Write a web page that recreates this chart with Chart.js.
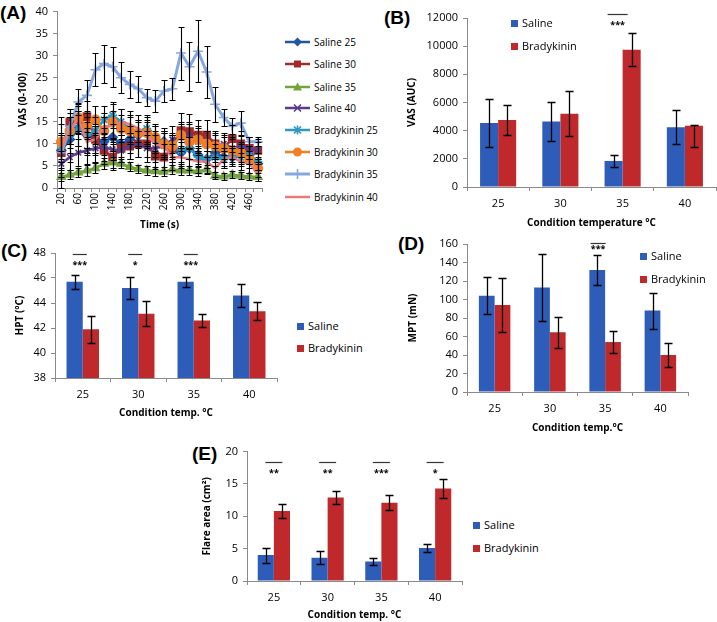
<!DOCTYPE html>
<html>
<head>
<meta charset="utf-8">
<title>Saline vs bradykinin</title>
<script src="https://cdn.jsdelivr.net/npm/chart.js@4.4.1/dist/chart.umd.min.js"></script>
<style>
  body { margin: 0; width: 717px; height: 622px; position: relative; overflow: hidden; background: #fff; font-family: 'Open Sans', sans-serif; color: #000; }
  .panel { position: absolute; }
  .tag { position: absolute; font: bold 19px 'Liberation Sans', Arial, sans-serif; line-height: 19px; }
  .key { position: absolute; font-size: 11px; white-space: nowrap; }
  .key .row { position: absolute; left: 0; height: 14px; line-height: 14px; display: flex; align-items: center; }
  .sw { display: inline-block; width: 7px; height: 7px; margin-right: 4px; }
</style>
</head>
<body>

<div class="tag" style="left:0;top:3px">(A)</div>
<div class="tag" style="left:384px;top:8px">(B)</div>
<div class="tag" style="left:1px;top:241px">(C)</div>
<div class="tag" style="left:398px;top:234px">(D)</div>
<div class="tag" style="left:192px;top:444px">(E)</div>

<div class="panel" style="left:0;top:0;width:271px;height:231px"><canvas id="chartA"></canvas></div>
<div class="panel" style="left:390px;top:0;width:327px;height:229px"><canvas id="chartB"></canvas></div>
<div class="panel" style="left:0;top:240px;width:280px;height:179px"><canvas id="chartC"></canvas></div>
<div class="panel" style="left:400px;top:230px;width:290px;height:204px"><canvas id="chartD"></canvas></div>
<div class="panel" style="left:180px;top:440px;width:285px;height:181px"><canvas id="chartE"></canvas></div>

<div class="key" id="keyA" style="left:285px;top:0"></div>
<div class="key" id="keyB" style="left:511px;top:0"></div>
<div class="key" id="keyC" style="left:297px;top:0"></div>
<div class="key" id="keyD" style="left:640px;top:0"></div>
<div class="key" id="keyE" style="left:473px;top:0"></div>

<script>
// ---- data: panel A, VAS over time (24 time points) ----
const timeLabels = [20, 40, 60, 80, 100, 120, 140, 160, 180, 200, 220, 240,
                    260, 280, 300, 320, 340, 360, 380, 400, 420, 440, 460, 480];

const saline25 = [8.5, 11, 13.5, 12, 11, 10.5, 11.5, 10, 11, 12, 13, 11, 10.5, 9, 8, 9, 7.5, 6.5, 8, 7, 7, 8, 7.5, 5.5];
const saline30 = [8, 15, 15.5, 16.2, 11, 8.5, 7, 9, 9.5, 10, 10, 7.2, 7, 9, 13, 12.8, 12, 12, 10, 9, 11.2, 10, 9, 8.5];
const saline35 = [2.5, 3, 3.5, 4, 4.5, 5.5, 5.8, 5.5, 4.8, 4.3, 4, 3.8, 3.7, 4.2, 4, 4, 3.8, 4.2, 2.8, 2.6, 3, 2.8, 2.6, 2.5];
const saline40 = [5.5, 7, 8, 8.5, 9, 9.2, 8.8, 8.5, 9.5, 10, 9, 9, 9.5, 11, 11.5, 12, 10.5, 10, 9.5, 10, 9, 9.5, 9, 8.5];
const brady25 = [9, 12, 13.5, 12, 13, 15.5, 16.5, 15, 13.5, 12.5, 13.5, 11, 10, 9.5, 8.5, 9, 7, 6.5, 7, 6.5, 7.5, 7, 7.5, 6];
const brady30 = [10.5, 13, 16, 14, 15.5, 13, 15, 13.5, 13, 12.5, 12.5, 11.5, 10, 9.5, 12, 10.5, 11, 10, 9.5, 9, 8.5, 8, 6.5, 4.5];
const brady35 = [8, 14, 19.5, 21, 26.8, 28.2, 27.5, 25, 23.5, 22.5, 20.5, 19.7, 22, 22.5, 30.6, 27.5, 31, 26.3, 19, 16, 14, 14.7, 10.5, 10.5];
const brady40 = [9, 13, 15.8, 10.5, 11, 14, 14, 15, 14.5, 13.5, 12, 10, 9.5, 7, 7, 6.5, 6, 6, 4.5, 6.5, 7, 6, 5.5, 3.5];

const saline25Err = [4, 5, 4, 4, 3.5, 3, 3, 3, 3, 3, 3, 3, 3, 3, 2.5, 2.5, 2, 2, 2, 2, 2, 2, 2, 1.5];
const saline30Err = [4, 3, 3, 3.5, 3, 3, 3, 3, 3, 3, 3, 3, 3, 3, 4, 4, 3.5, 3.5, 3, 3, 3, 3, 2.5, 2.5];
const saline35Err = [1, 1, 1, 1.2, 1.2, 1.2, 1.2, 1, 1, 1, 1, 1, 1, 1, 1, 1, 1, 1, 0.8, 0.8, 0.8, 0.8, 0.8, 0.8];
const saline40Err = [3, 3, 3, 3, 3, 3, 2.5, 2.5, 3, 3, 3, 3, 3, 3, 3, 3, 3, 3, 2.5, 2.5, 2.5, 2.5, 2.5, 2];
const brady25Err = [3, 4, 4, 3, 3, 3, 3, 3, 3, 3, 3, 3, 3, 2.5, 2.5, 2.5, 2, 2, 2, 2, 2, 2, 2, 2];
const brady30Err = [4, 4, 3, 3, 3, 3, 4, 3, 3, 3, 3, 3, 3, 3, 3, 4, 3, 3, 3, 2.5, 2.5, 2.5, 2, 2];
const brady35Err = [8, 4, 3, 3.5, 3.7, 4.3, 4.5, 3.5, 3, 3, 2, 2.5, 2.5, 2.5, 6, 5.5, 7, 5.8, 4, 2, 1.8, 2.8, 1, 1];
const brady40Err = [3, 3, 3.5, 3, 3, 3, 3.5, 3, 3, 3, 3, 3, 3, 3, 2.5, 2.5, 2.5, 2.5, 2, 2, 2, 2, 2, 2];

// ---- data: panels B-E, by condition temperature ----
const tempLabels = ['25', '30', '35', '40'];

const aucSaline = [4550, 4650, 1850, 4250];
const aucSalineErr = [1700, 1400, 450, 1200];
const aucBrady = [4750, 5200, 9750, 4350];
const aucBradyErrLow = [1050, 1600, 1150, 1500];
const aucBradyErrHigh = [1050, 1600, 1150, 50];
const aucStars = ['', '', '***', ''];

const hptSaline = [45.7, 45.2, 45.7, 44.6];
const hptSalineErr = [0.55, 0.9, 0.4, 0.95];
const hptBrady = [41.9, 43.15, 42.6, 43.35];
const hptBradyErr = [1.1, 1.0, 0.5, 0.75];
const hptStars = ['***', '*', '***', ''];

const mptSaline = [104, 113, 132, 88];
const mptSalineErr = [20, 36, 16.5, 19.5];
const mptBrady = [94, 64.5, 54, 40];
const mptBradyErr = [29, 16.5, 11.5, 13];
const mptStars = ['', '', '***', ''];

const flareSaline = [4.0, 3.6, 3.0, 5.1];
const flareSalineErr = [1.15, 1.0, 0.6, 0.65];
const flareBrady = [10.8, 12.9, 12.1, 14.3];
const flareBradyErr = [1.05, 0.95, 1.15, 1.4];
const flareStars = ['**', '**', '***', '*'];

// ---- styling ----
const salineBlue = '#2d5db9';
const bradyRed = '#c0292b';
const axisGrey = '#8a8a8a';

Chart.defaults.font.family = "'Open Sans', sans-serif";
Chart.defaults.color = '#000';
Chart.defaults.animation = false;

// error bars drawn from each dataset's err / errLow / errHigh arrays
const errorBars = {
  id: 'errorBars',
  afterDatasetsDraw(chart, args, opts) {
    const ctx = chart.ctx;
    const y = chart.scales.y;
    const cap = opts.cap || 4;
    ctx.save();
    ctx.strokeStyle = '#000';
    ctx.lineWidth = opts.width || 1.3;
    chart.data.datasets.forEach((ds, di) => {
      if (!ds.err && !ds.errLow) return;
      const meta = chart.getDatasetMeta(di);
      meta.data.forEach((el, i) => {
        const v = ds.data[i];
        const lo = ds.errLow ? ds.errLow[i] : ds.err[i];
        const hi = ds.errHigh ? ds.errHigh[i] : ds.err[i];
        const top = Math.round(y.getPixelForValue(v + hi)) + 0.5;
        const bot = Math.round(y.getPixelForValue(v - lo)) + 0.5;
        const x = Math.round(el.x) + 0.5;
        ctx.beginPath();
        ctx.moveTo(x, top); ctx.lineTo(x, bot);
        ctx.moveTo(x - cap, top); ctx.lineTo(x + cap, top);
        ctx.moveTo(x - cap, bot); ctx.lineTo(x + cap, bot);
        ctx.stroke();
      });
    });
    ctx.restore();
  }
};

// significance bar + stars over a category
const sigMarks = {
  id: 'sigMarks',
  afterDatasetsDraw(chart, args, o) {
    if (!o.stars) return;
    const { ctx } = chart;
    const x = chart.scales.x, y = chart.scales.y;
    ctx.save();
    o.stars.forEach((s, i) => {
      if (!s) return;
      const cx = x.getPixelForValue(i) + (o.shift || 0);
      const ly = Math.round(y.getPixelForValue(o.lineAt)) + 0.5;
      ctx.strokeStyle = '#333';
      ctx.lineWidth = 1.2;
      ctx.beginPath();
      ctx.moveTo(cx - o.half, ly);
      ctx.lineTo(cx + o.half, ly);
      ctx.stroke();
      ctx.fillStyle = '#000';
      ctx.font = "bold 9px 'Open Sans', sans-serif";
      ctx.textAlign = 'center';
      ctx.textBaseline = 'alphabetic';
      ctx.fillText(s, cx, y.getPixelForValue(o.starAt) + 5);
    });
    ctx.restore();
  }
};

function yAxis(min, max, step, title, titleGap, width) {
  return {
    min: min, max: max,
    ticks: { stepSize: step, padding: 5, font: { size: 11 }, callback: v => String(v) },
    grid: { drawOnChartArea: false, drawTicks: true, tickLength: 4, color: axisGrey },
    border: { color: axisGrey },
    title: { display: true, text: title, font: { size: 10, weight: 'bold' }, padding: { top: titleGap, bottom: 0 } },
    afterFit: s => { s.width = width; }
  };
}

function xAxis(title, height) {
  return {
    offset: true,
    ticks: { padding: 6, font: { size: 11 } },
    grid: { drawOnChartArea: false, drawTicks: true, tickLength: 4, color: axisGrey, offset: true },
    border: { color: axisGrey },
    title: { display: true, text: title, font: { size: 10, weight: 'bold' }, padding: { top: 0, bottom: 0 } },
    afterFit: s => { s.height = height; }
  };
}

// ---- panel A ----
const seriesA = [
  { label: 'Saline 25', data: saline25, err: saline25Err, color: '#2255a4', marker: 'rectRot', r: 4.5 },
  { label: 'Saline 30', data: saline30, err: saline30Err, color: '#a32a2a', marker: 'rect', r: 5 },
  { label: 'Saline 35', data: saline35, err: saline35Err, color: '#73a33a', marker: 'triangle', r: 4.5 },
  { label: 'Saline 40', data: saline40, err: saline40Err, color: '#5b3b8c', marker: 'crossRot', r: 4 },
  { label: 'Bradykinin 25', data: brady25, err: brady25Err, color: '#2f97c2', marker: 'star', r: 4.5 },
  { label: 'Bradykinin 30', data: brady30, err: brady30Err, color: '#f17f25', marker: 'circle', r: 4.5 },
  { label: 'Bradykinin 35', data: brady35, err: brady35Err, color: '#86a8e0', marker: 'cross', r: 5, width: 3 },
  { label: 'Bradykinin 40', data: brady40, err: brady40Err, color: '#e9797b', marker: null, r: 0 }
];

const axisAx = xAxis('Time (s)', 43);
axisAx.ticks = {
  autoSkip: false, minRotation: 90, maxRotation: 90, padding: 1, font: { size: 10 },
  callback: (v, i) => (i % 2 === 0 ? String(timeLabels[i]) : '')
};

new Chart(document.getElementById('chartA'), {
  type: 'line',
  data: {
    labels: timeLabels,
    datasets: seriesA.map((s, i) => ({
      label: s.label, data: s.data, err: s.err,
      borderColor: s.color, backgroundColor: s.color,
      pointStyle: s.marker || false, pointRadius: s.r,
      pointBorderColor: s.color, pointBackgroundColor: s.color, pointBorderWidth: 1.6,
      borderWidth: s.width || 2.5, tension: 0, order: seriesA.length - i
    }))
  },
  options: {
    responsive: true, maintainAspectRatio: false,
    layout: { padding: { top: 4, right: 3, left: 0, bottom: 0 } },
    scales: { x: axisAx, y: yAxis(0, 40, 5, 'VAS (0-100)', 17, 57) },
    plugins: { legend: { display: false }, tooltip: { enabled: false }, errorBars: { cap: 3, width: 1.1 } }
  },
  plugins: [errorBars]
});

// legend A, drawn as line + marker per series
function markerSvg(style, c, x, y) {
  switch (style) {
    case 'rectRot': return `<polygon points="${x},${y - 4.5} ${x + 4.5},${y} ${x},${y + 4.5} ${x - 4.5},${y}" fill="${c}"/>`;
    case 'rect': return `<rect x="${x - 3.5}" y="${y - 3.5}" width="7" height="7" fill="${c}"/>`;
    case 'triangle': return `<polygon points="${x},${y - 4.5} ${x + 4.5},${y + 3.5} ${x - 4.5},${y + 3.5}" fill="${c}"/>`;
    case 'crossRot': return `<path d="M${x - 3.5} ${y - 3.5}L${x + 3.5} ${y + 3.5}M${x - 3.5} ${y + 3.5}L${x + 3.5} ${y - 3.5}" stroke="${c}" stroke-width="1.6"/>`;
    case 'star': return `<path d="M${x - 3.5} ${y - 3.5}L${x + 3.5} ${y + 3.5}M${x - 3.5} ${y + 3.5}L${x + 3.5} ${y - 3.5}M${x} ${y - 4.5}L${x} ${y + 4.5}M${x - 4.5} ${y}L${x + 4.5} ${y}" stroke="${c}" stroke-width="1.6"/>`;
    case 'circle': return `<circle cx="${x}" cy="${y}" r="4.5" fill="${c}"/>`;
    case 'cross': return `<path d="M${x} ${y - 5}L${x} ${y + 5}M${x - 5} ${y}L${x + 5} ${y}" stroke="${c}" stroke-width="1.6"/>`;
    default: return '';
  }
}

const keyA = document.getElementById('keyA');
const keyARows = [42, 64, 87, 108, 130, 152, 174, 197];
seriesA.forEach((s, i) => {
  const row = document.createElement('div');
  row.className = 'row';
  row.style.top = (keyARows[i] - 7) + 'px';
  row.style.fontSize = '10px';
  row.innerHTML = `<svg width="28" height="14" style="margin-right:1px"><line x1="0" y1="7" x2="25" y2="7" stroke="${s.color}" stroke-width="${s.width || 2.5}"/>${markerSvg(s.marker, s.color, 12.5, 7)}</svg>${s.label}`;
  keyA.appendChild(row);
});

// ---- bar panels ----
function barChart(id, salineVals, salineErr, bradyVals, bradyErrLow, bradyErrHigh, y, x, pad, catPct, sig) {
  return new Chart(document.getElementById(id), {
    type: 'bar',
    data: {
      labels: tempLabels,
      datasets: [
        { label: 'Saline', data: salineVals, err: salineErr, backgroundColor: salineBlue, categoryPercentage: catPct, barPercentage: 1 },
        { label: 'Bradykinin', data: bradyVals, errLow: bradyErrLow, errHigh: bradyErrHigh, backgroundColor: bradyRed, categoryPercentage: catPct, barPercentage: 1 }
      ]
    },
    options: {
      responsive: true, maintainAspectRatio: false,
      layout: { padding: pad },
      scales: { x: x, y: y },
      plugins: { legend: { display: false }, tooltip: { enabled: false }, errorBars: { cap: 4, width: 1.3 }, sigMarks: sig }
    },
    plugins: [errorBars, sigMarks]
  });
}

barChart('chartB', aucSaline, aucSalineErr, aucBrady, aucBradyErrLow, aucBradyErrHigh,
  yAxis(0, 12000, 2000, 'VAS (AUC)', 16, 77), xAxis('Condition temperature °C', 42),
  { top: 18, right: 1, left: 0, bottom: 0 }, 0.58,
  { stars: aucStars, lineAt: 12300, starAt: 11650, half: 10, shift: -5 });

barChart('chartC', hptSaline, hptSalineErr, hptBrady, hptBradyErr, hptBradyErr,
  yAxis(38, 48, 2, 'HPT (°C)', 14, 55), xAxis('Condition temp. °C', 41),
  { top: 13, right: 3, left: 0, bottom: 0 }, 0.585,
  { stars: hptStars, lineAt: 47.92, starAt: 47.2, half: 7, shift: -3 });

barChart('chartD', mptSaline, mptSalineErr, mptBrady, mptBradyErr, mptBradyErr,
  yAxis(0, 160, 20, 'MPT (mN)', 7, 67), xAxis('Condition temp.°C', 42),
  { top: 14, right: 2, left: 0, bottom: 0 }, 0.57,
  { stars: mptStars, lineAt: 161, starAt: 156.8, half: 7.5, shift: -7 });

barChart('chartE', flareSaline, flareSalineErr, flareBrady, flareBradyErr, flareBradyErr,
  yAxis(0, 20, 5, 'Flare area (cm²)', 21, 67), xAxis('Condition temp. °C', 40),
  { top: 8, right: 3, left: 0, bottom: 0 }, 0.6,
  { stars: flareStars, lineAt: 18.4, starAt: 17, half: 8.5, shift: 0 });

// ---- box legends for bar panels ----
function boxKey(id, rows) {
  const el = document.getElementById(id);
  [['Saline', salineBlue], ['Bradykinin', bradyRed]].forEach(([name, col], i) => {
    const row = document.createElement('div');
    row.className = 'row';
    row.style.top = (rows[i] - 7) + 'px';
    row.innerHTML = `<span class="sw" style="background:${col}"></span>${name}`;
    el.appendChild(row);
  });
}
boxKey('keyB', [23, 46]);
boxKey('keyC', [326, 348]);
boxKey('keyD', [256, 279]);
boxKey('keyE', [525, 548]);
</script>
</body>
</html>
